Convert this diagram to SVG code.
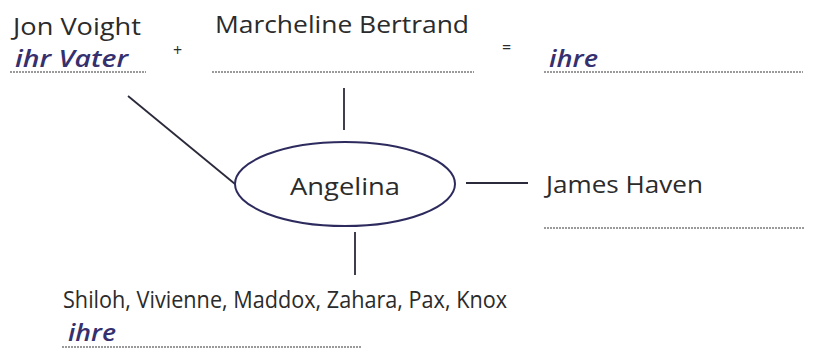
<svg xmlns="http://www.w3.org/2000/svg" width="813" height="349" viewBox="0 0 813 349">
<style>
.t{font-family:"Open Sans","Noto Sans",sans-serif;font-size:24px;fill:#2b2b2b}
.h{font-family:"Open Sans","Noto Sans",sans-serif;font-size:23px;font-style:italic;font-weight:600;fill:#35306e}
.u{stroke:#7a7a7a;stroke-width:1.3;stroke-dasharray:2 1;fill:none}
.c{stroke:#2a2a3a;stroke-width:1.8;fill:none}
.s{font-family:"Open Sans","Noto Sans",sans-serif;font-size:16px;fill:#2b2b2b}
</style>
<rect width="813" height="349" fill="#fff"/>
<g id="connectors">
<line class="c" x1="128" y1="96" x2="235" y2="184"/>
<line class="c" x1="344" y1="88" x2="344" y2="130"/>
<line class="c" x1="466" y1="183" x2="528" y2="183"/>
<line class="c" x1="355" y1="232" x2="355" y2="275"/>
</g>
<g id="father">
<text class="t" x="13" y="35" textLength="128" lengthAdjust="spacingAndGlyphs">Jon Voight</text>
<text class="h" x="15" y="67" textLength="113" lengthAdjust="spacingAndGlyphs">ihr Vater</text>
<line class="u" x1="10" y1="72" x2="146" y2="72"/>
</g>
<g id="plus"><text class="s" x="173" y="56">+</text></g>
<g id="mother">
<text class="t" x="215" y="33" textLength="254" lengthAdjust="spacingAndGlyphs">Marcheline Bertrand</text>
<line class="u" x1="212" y1="72" x2="474" y2="72"/>
</g>
<g id="equals"><text class="s" x="502" y="53">=</text></g>
<g id="parents">
<text class="h" x="549" y="67" textLength="49" lengthAdjust="spacingAndGlyphs">ihre</text>
<line class="u" x1="544" y1="72" x2="803" y2="72"/>
</g>
<g id="angelina">
<ellipse cx="345" cy="184" rx="110" ry="42" fill="none" stroke="#2d2b5e" stroke-width="2"/>
<text class="t" x="290" y="195" textLength="110" lengthAdjust="spacingAndGlyphs">Angelina</text>
</g>
<g id="brother">
<text class="t" x="546" y="193" textLength="157" lengthAdjust="spacingAndGlyphs">James Haven</text>
<line class="u" x1="544" y1="228" x2="805" y2="228"/>
</g>
<g id="children">
<text class="t" x="63" y="308" textLength="444" lengthAdjust="spacingAndGlyphs">Shiloh, Vivienne, Maddox, Zahara, Pax, Knox</text>
<text class="h" x="68" y="341" textLength="48" lengthAdjust="spacingAndGlyphs">ihre</text>
<line class="u" x1="62" y1="347" x2="362" y2="347"/>
</g>
</svg>
